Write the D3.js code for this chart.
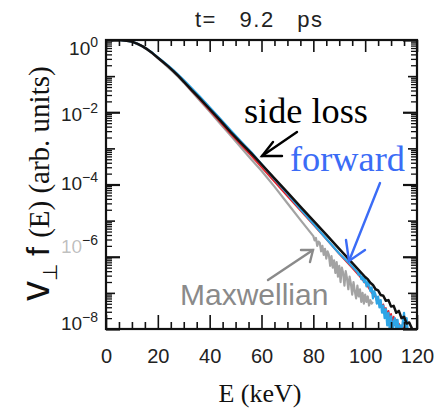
<!DOCTYPE html>
<html><head><meta charset="utf-8">
<script src="https://cdn.jsdelivr.net/npm/d3@7"></script>
<style>
html,body{margin:0;padding:0;background:#fff;}
svg{display:block;}
</style></head>
<body>
<svg id="chart" width="440" height="412"></svg>
<script>
// ---------- data (E in keV, values as log10 of v_perp f(E), arb. units) ----------
const xTickLabels = [0, 20, 40, 60, 80, 100, 120];
const yDecadeLabels = [0, -2, -4, -6, -8];
const titleText = "t= 9.2 ps";

const blackE = [2,3,4,5,6,8,10,12,14,16,18,20,22,24,26,28,30,33,36,40,44,48,52,56,60,65,70,75,80,85,90,95,100,
  101,102,103,104,105,106,107,108,109,110,111,112,113,114,115,116,117,118,118.8];
const blackLog = [-0.01,0,0,0,-0.005,-0.02,-0.045,-0.10,-0.17,-0.26,-0.37,-0.49,-0.61,-0.73,-0.86,-1.00,-1.15,-1.38,-1.60,-1.91,-2.22,-2.54,-2.84,-3.13,-3.44,-3.83,-4.22,-4.61,-5.00,-5.39,-5.78,-6.17,-6.56,
  -6.62,-6.72,-6.78,-6.90,-6.93,-7.06,-7.08,-7.22,-7.20,-7.38,-7.36,-7.55,-7.50,-7.70,-7.66,-7.85,-7.82,-7.98,-8.05];

const blueE = [2,3,4,5,6,8,10,12,14,16,18,20,22,24,26,28,30,33,36,40,44,48,52,56,60,65,70,75,80,85,90,93,95,97,
  97.5,98,98.5,99,99.5,100,100.5,101,101.5,102,102.5,103,103.5,104,104.5,105,105.5,106,106.5,107,107.5,108,108.5,109,109.5,110,110.5,111,111.5,112,112.5,113,113.5,114,114.5,115,115.5,116,116.5];
const blueLog = [-0.01,0,0,0,-0.005,-0.02,-0.045,-0.10,-0.17,-0.26,-0.36,-0.48,-0.59,-0.71,-0.83,-0.97,-1.11,-1.33,-1.55,-1.86,-2.17,-2.49,-2.80,-3.10,-3.43,-3.85,-4.26,-4.68,-5.09,-5.50,-5.91,-6.12,-6.27,-6.42,
  -6.50,-6.44,-6.62,-6.55,-6.70,-6.58,-6.82,-6.70,-6.78,-6.95,-6.85,-7.15,-6.95,-7.05,-7.30,-7.10,-7.40,-7.20,-7.55,-7.35,-7.70,-7.45,-7.90,-7.55,-8.10,-7.65,-8.10,-7.80,-7.70,-8.10,-7.75,-8.10,-7.90,-8.10,-7.80,-7.55,-8.10,-7.70,-8.10];

const redE = [2,3,4,5,6,8,10,12,14,16,18,20,22,24,26,28,30,33,36,40,44,48,52,56,60,65,70,75,80,85,90,95,98,
  99,100,100.5,101,101.5,102,102.5,103,103.5,104,104.5,105,105.5,106,106.5,107,107.5,108,108.5,109,109.5,110,110.5,111,111.5,112,112.5,113,113.5,114,114.5,115,115.5,116];
const redLog = [-0.01,0,0,0,-0.005,-0.02,-0.045,-0.10,-0.17,-0.26,-0.37,-0.49,-0.61,-0.73,-0.86,-1.00,-1.16,-1.40,-1.63,-1.95,-2.27,-2.59,-2.90,-3.20,-3.52,-3.92,-4.32,-4.72,-5.11,-5.51,-5.92,-6.31,-6.55,
  -6.64,-6.72,-6.78,-6.82,-6.88,-6.92,-7.00,-7.02,-7.10,-7.08,-7.22,-7.15,-7.30,-7.25,-7.40,-7.32,-7.50,-7.42,-7.60,-7.50,-7.70,-7.58,-7.80,-7.66,-7.90,-7.75,-8.00,-7.85,-8.05,-7.90,-8.10,-7.95,-8.10,-8.00];

const greyE = [2,3,4,5,6,8,10,12,14,16,18,20,22,24,26,28,30,33,36,40,44,48,52,56,60,65,70,75,80,
  80.5,81,81.5,82,82.5,83,83.5,84,84.5,85,85.5,86,86.5,87,87.5,88,88.5,89,89.5,90,90.5,91,91.5,92,92.5,93,93.5,94,94.5,95,95.5,96,96.5,97,97.5,98,98.5,99,99.5,100,100.5,101,101.5,102,102.5,103];
const greyLog = [-0.01,0,0,0,-0.01,-0.025,-0.05,-0.11,-0.18,-0.27,-0.38,-0.50,-0.63,-0.76,-0.89,-1.03,-1.18,-1.42,-1.66,-1.98,-2.31,-2.64,-2.97,-3.30,-3.62,-4.06,-4.52,-4.98,-5.43,
  -5.55,-5.48,-5.70,-5.58,-5.62,-5.85,-5.70,-5.95,-5.78,-6.05,-5.85,-5.95,-6.25,-5.98,-6.30,-6.10,-6.45,-6.15,-6.55,-6.25,-6.70,-6.30,-6.45,-6.80,-6.40,-6.60,-6.90,-6.55,-6.75,-7.05,-6.70,-6.95,-7.15,-6.80,-7.10,-6.90,-7.25,-7.00,-7.30,-7.05,-7.25,-7.10,-7.35,-7.20,-7.30,-7.25];

// ---------- layout ----------
const SANS = "'Liberation Sans', Arial, Helvetica, sans-serif";
const SERIF = "'Liberation Serif', 'Times New Roman', Times, serif";
const svg = d3.select("#chart");
const L = 106, R = 417, T = 40, B = 329;
const x = d3.scaleLinear().domain([0, 120]).range([L, R]);
const y = d3.scaleLog().domain([1e-8, 1]).range([B, T]);

function pts(E, V) {
  const n = Math.min(E.length, V.length);
  return d3.range(n).map(i => [E[i], Math.pow(10, V[i])]);
}

svg.append("defs").append("clipPath").attr("id", "clip")
  .append("rect").attr("x", L).attr("y", T).attr("width", R - L).attr("height", B - T);

const line = d3.line().x(d => x(d[0])).y(d => y(d[1]));
const plot = svg.append("g").attr("clip-path", "url(#clip)");
const series = [
  {E: greyE, V: greyLog, c: "#a3a3a3", w: 2.2},
  {E: redE, V: redLog, c: "#e3222b", w: 1.8},
  {E: blueE, V: blueLog, c: "#2ea5e6", w: 2.2},
  {E: blackE, V: blackLog, c: "#111111", w: 2.5}
];
series.forEach(s => {
  plot.append("path").datum(pts(s.E, s.V)).attr("d", line)
    .attr("fill", "none").attr("stroke", s.c).attr("stroke-width", s.w)
    .attr("stroke-linejoin", "round");
});

// ---------- axes ----------
const xMinor = d3.range(0, 121, 5).filter(v => v % 20 !== 0);
const decades = d3.range(-8, 1).map(d => Math.pow(10, d));
const evenDec = decades.filter((d, i) => i % 2 === 0);
const oddDec = decades.filter((d, i) => i % 2 === 1);
const yMinor = [];
for (let d = -8; d < 0; d++) for (let m = 2; m <= 9; m++) yMinor.push(m * Math.pow(10, d));

function styleAxis(g) {
  g.select(".domain").remove();
  g.selectAll(".tick line").attr("stroke", "#111").attr("stroke-width", 1.6);
}
svg.append("g").attr("transform", `translate(0,${B})`)
  .call(d3.axisBottom(x).tickValues(xTickLabels).tickSize(-14).tickPadding(20).tickFormat(d3.format("d")))
  .call(styleAxis)
  .call(g => g.selectAll("text").attr("font-family", SANS).attr("font-size", 20).attr("fill", "#222"));
svg.append("g").attr("transform", `translate(0,${B})`)
  .call(d3.axisBottom(x).tickValues(xMinor).tickSize(-7).tickFormat("")).call(styleAxis);
svg.append("g").attr("transform", `translate(0,${T})`)
  .call(d3.axisTop(x).tickValues(xTickLabels).tickSize(-12).tickFormat("")).call(styleAxis);
svg.append("g").attr("transform", `translate(0,${T})`)
  .call(d3.axisTop(x).tickValues(xMinor).tickSize(-6).tickFormat("")).call(styleAxis);

[[L, d3.axisLeft], [R, d3.axisRight]].forEach(([px, ax]) => {
  svg.append("g").attr("transform", `translate(${px},0)`)
    .call(ax(y).tickValues(evenDec).tickSize(-14).tickFormat("")).call(styleAxis)
    .call(g => g.selectAll(".tick line").attr("stroke-width", 2.2));
  svg.append("g").attr("transform", `translate(${px},0)`)
    .call(ax(y).tickValues(oddDec).tickSize(-9).tickFormat("")).call(styleAxis);
  svg.append("g").attr("transform", `translate(${px},0)`)
    .call(ax(y).tickValues(yMinor).tickSize(-6).tickFormat("")).call(styleAxis)
    .call(g => g.selectAll(".tick line").attr("stroke-width", 1.3));
});

svg.append("rect").attr("x", L).attr("y", T).attr("width", R - L).attr("height", B - T)
  .attr("fill", "none").attr("stroke", "#111").attr("stroke-width", 2.2);

// y tick labels 10^n
const labelShift = [15, 8.5, 5.6, -4, 1];
yDecadeLabels.forEach((d, i) => {
  const t = svg.append("text").attr("font-family", SANS).attr("x", 98)
    .attr("y", y(Math.pow(10, d)) + labelShift[i]).attr("text-anchor", "end")
    .attr("font-size", 19).attr("fill", "#222");
  t.append("tspan").text("10").attr("fill-opacity", d === -6 ? 0.3 : 1);
  t.append("tspan").attr("dy", -8).attr("font-size", 14).text(d === 0 ? "0" : "\u2212" + (-d));
});

// title
svg.append("text").attr("font-family", SANS).attr("x", 195).attr("y", 27)
  .attr("font-size", 22).attr("fill", "#222").attr("letter-spacing", 1.5).attr("word-spacing", 15)
  .text(titleText);

// x label
svg.append("text").attr("font-family", SERIF).attr("x", 260).attr("y", 402)
  .attr("text-anchor", "middle").attr("font-size", 26).attr("fill", "#111").text("E (keV)");

// y label
const yl = svg.append("text").attr("transform", "translate(49,301) rotate(-90)").attr("fill", "#111");
yl.append("tspan").attr("font-family", SANS).attr("font-size", 40).text("v");
yl.append("tspan").attr("font-family", SANS).attr("font-size", 20).attr("dy", 8).text("\u22A5");
yl.append("tspan").attr("font-family", SANS).attr("font-size", 32).attr("dy", -8).attr("dx", 8).text("f");
yl.append("tspan").attr("font-family", SERIF).attr("font-size", 29).attr("dx", 2).text(" (E) (arb. units)");

// annotations
function arrow(x1, y1, x2, y2, a1, a2, color, w) {
  const g = svg.append("g").attr("stroke", color).attr("stroke-width", w).attr("fill", "none")
    .attr("stroke-linecap", "round");
  g.append("line").attr("x1", x1).attr("y1", y1).attr("x2", x2).attr("y2", y2);
  g.append("polyline").attr("points", `${a1[0]},${a1[1]} ${x2},${y2} ${a2[0]},${a2[1]}`);
}
svg.append("text").attr("font-family", SERIF).attr("x", 244).attr("y", 123)
  .attr("font-size", 36.5).attr("fill", "#000").attr("textLength", 124).attr("lengthAdjust", "spacingAndGlyphs")
  .text("side loss");
arrow(297, 132, 262, 156, [273, 142], [282, 156], "#000", 2.4);

svg.append("text").attr("font-family", SERIF).attr("x", 290).attr("y", 171)
  .attr("font-size", 35).attr("fill", "#3b6cf6").attr("textLength", 115).attr("lengthAdjust", "spacingAndGlyphs")
  .text("forward");
arrow(380, 183, 349, 261, [346, 240], [365, 250], "#3b6cf6", 2.4);

svg.append("text").attr("font-family", SANS).attr("x", 180).attr("y", 305)
  .attr("font-size", 30).attr("fill", "#8a8a8a").text("Maxwellian");
arrow(268, 280, 313, 250, [301, 250], [310, 262], "#8a8a8a", 2.4);
</script>
</body></html>
